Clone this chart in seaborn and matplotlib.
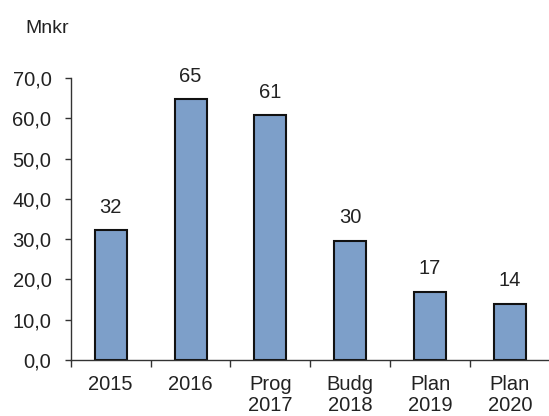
import numpy as np
import pandas as pd
import matplotlib
matplotlib.use("Agg")
import matplotlib.pyplot as plt
import seaborn as sns

categories = ["2015", "2016", "Prog\n2017", "Budg\n2018", "Plan\n2019", "Plan\n2020"]
values = [32.2, 64.8, 60.8, 29.6, 17.0, 14.0]
value_labels = ["32", "65", "61", "30", "17", "14"]
y_ticks = [0, 10, 20, 30, 40, 50, 60, 70]

sns.set_style("white")
plt.rcParams["font.family"] = ["Liberation Sans", "DejaVu Sans"]

df = pd.DataFrame({"kategori": categories, "mnkr": values})

fig = plt.figure(figsize=(5.49, 4.16), dpi=100)
ax = fig.add_axes([0.129, 0.1346, 0.8725, 0.678])

sns.barplot(data=df, x="kategori", y="mnkr", color="#7d9fc9", saturation=1,
            width=0.4, edgecolor="#111111", linewidth=1.5, ax=ax)

for i, (v, lab) in enumerate(zip(values, value_labels)):
    ax.text(i, v + 4.3, lab, ha="center", va="baseline", fontsize=14.5, color="#222222")

ax.set_ylim(0, 70)
ax.set_xlim(-0.5, len(categories) - 0.5)
ax.set_yticks(y_ticks)
ax.set_yticklabels([f"{t:.1f}".replace(".", ",") for t in y_ticks], fontsize=14.5, color="#222222")
ax.set_xticklabels(categories, fontsize=14.5, color="#222222", linespacing=1.12)
ax.set_xticks(np.arange(-0.5, len(categories)), minor=True)
ax.tick_params(axis="x", which="major", length=0, pad=11)
ax.tick_params(axis="x", which="minor", length=5, width=1, direction="out", color="#333333", bottom=True)
ax.tick_params(axis="y", length=4, width=1, direction="out", color="#333333", left=True, pad=10)
ax.set_xlabel("")
ax.set_ylabel("")
for s in ["top", "right"]:
    ax.spines[s].set_visible(False)
for s in ["left", "bottom"]:
    ax.spines[s].set_color("#333333")
    ax.spines[s].set_linewidth(1)

fig.text(0.0455, 0.921, "Mnkr", fontsize=14, color="#222222", va="baseline")

fig.savefig("out.png", dpi=100)
